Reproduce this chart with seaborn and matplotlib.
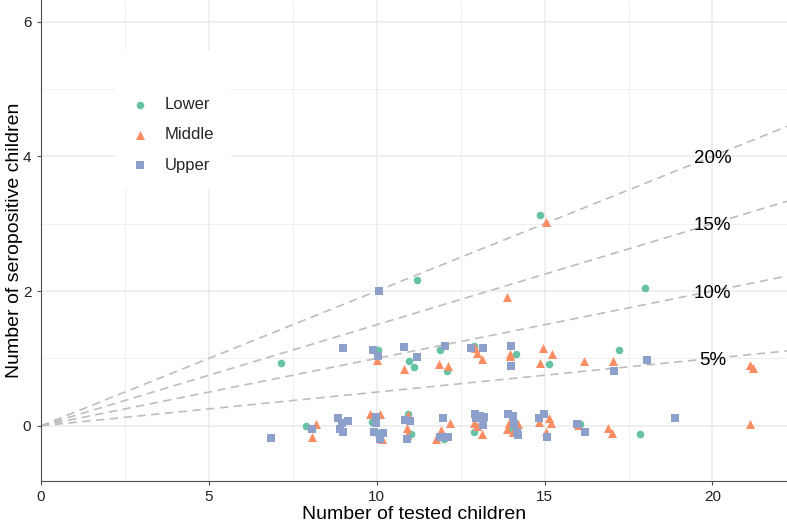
import matplotlib
matplotlib.use("Agg")
import matplotlib.pyplot as plt
import seaborn as sns
import pandas as pd
import numpy as np

# ---- data ----
groups = ["Lower", "Middle", "Upper"]

lower_x = [7.15, 7.88, 9.87, 9.85, 10.0, 10.05, 10.94, 11.02, 10.96, 11.12, 11.19, 11.89, 12.08, 12.0,
           12.90, 12.9, 13.97, 13.95, 14.15, 14.86, 15.13, 16.04, 17.22, 17.84, 17.99]
lower_y = [0.93, 0.0, 0.14, 0.06, -0.11, 1.12, 0.17, -0.12, 0.96, 0.87, 2.16, 1.12, 0.81, -0.2,
           1.18, -0.1, -0.01, -0.07, 1.06, 3.13, 0.92, 0.02, 1.12, -0.12, 2.04]

middle_x = [8.18, 8.08, 9.80, 10.10, 10.15, 10.02, 10.94, 10.89, 10.91, 10.81, 11.84, 12.11, 12.18, 11.91,
            11.77, 12.93, 12.98, 13.13, 12.9, 13.0, 13.15, 13.88, 13.97, 13.97, 13.95, 14.22, 13.87, 14.07,
            14.94, 15.21, 14.86, 15.03, 14.83, 15.14, 15.19, 15.04, 16.0, 16.17, 17.03, 16.9, 17.0,
            21.12, 21.2, 21.12]
middle_y = [0.02, -0.16, 0.17, 0.17, -0.19, 0.98, 0.16, -0.04, -0.14, 0.84, 0.92, 0.88, 0.04, -0.06,
            -0.2, 1.15, 1.08, 0.99, 0.04, -0.01, -0.12, 1.91, 1.06, 1.03, 0.04, 0.02, -0.05, -0.09,
            1.16, 1.06, 0.93, 3.03, 0.06, 0.11, 0.04, -0.1, 0.01, 0.96, 0.96, -0.04, -0.11,
            0.90, 0.85, 0.02]

upper_x = [6.84, 8.06, 8.86, 8.98, 9.14, 8.91, 9.01, 8.99, 9.98, 9.98, 9.92, 10.18, 10.10, 9.88, 10.05,
           10.07, 10.84, 10.99, 10.91, 10.82, 11.19, 11.97, 11.87, 12.13, 12.03, 12.8, 13.18, 12.93, 13.08,
           12.96, 13.2, 13.16, 14.01, 14.01, 13.92, 14.05, 14.1, 14.17, 14.2, 14.83, 14.98, 15.08, 15.96,
           16.2, 17.07, 18.04, 18.87]
upper_y = [-0.18, -0.05, 0.11, 0.04, 0.07, -0.05, -0.09, 1.16, 0.13, 0.04, -0.09, -0.11, -0.2, 1.12, 1.03,
           2.0, 0.08, 0.07, -0.19, 1.17, 1.02, 0.12, -0.17, -0.16, 1.18, 1.15, 1.15, 0.18, 0.14,
           0.11, 0.13, 0.01, 1.19, 0.89, 0.18, 0.14, 0.02, -0.09, -0.14, 0.12, 0.17, -0.17, 0.02,
           -0.10, 0.81, 0.97, 0.12]

rates = [0.05, 0.10, 0.15, 0.20]
rate_labels = ["5%", "10%", "15%", "20%"]
label_x = 20

x_ticks = [0, 5, 10, 15, 20]
y_ticks = [0, 2, 4, 6]

df = pd.DataFrame({
    "tested": lower_x + middle_x + upper_x,
    "positive": lower_y + middle_y + upper_y,
    "group": ["Lower"] * len(lower_x) + ["Middle"] * len(middle_x) + ["Upper"] * len(upper_x),
})

# ---- style ----
sns.set_theme(style="white")
plt.rcParams["font.family"] = ["Liberation Sans", "DejaVu Sans"]

fig = plt.figure(figsize=(7.87, 5.24), dpi=100)
ax = fig.add_axes([41 / 787, 43 / 524, 746 / 787, 481 / 524])

xmax = 22.22
ax.set_xlim(0, xmax)
ax.set_ylim(-0.82, 6.32)

# grid
ax.set_xticks(x_ticks)
ax.set_yticks(y_ticks)
ax.set_xticks([2.5, 7.5, 12.5, 17.5], minor=True)
ax.set_yticks([1, 3, 5], minor=True)
ax.grid(which="major", color="#ebebeb", linewidth=1.1, zorder=0)
ax.grid(which="minor", color="#ebebeb", linewidth=0.55, zorder=0)
ax.set_axisbelow(True)

# reference lines
for r, lab in zip(rates, rate_labels):
    ax.axline((0, 0), slope=r, color="#bdbdbd", linewidth=1.2, linestyle=(0, (5, 3.3)), zorder=1)
    ax.text(label_x, r * label_x - 0.03, lab, ha="center", va="center", fontsize=13.5,
            color="black", zorder=5)

palette = {"Lower": "#66c2a5", "Middle": "#fc8d62", "Upper": "#8da0cb"}
markers = {"Lower": "o", "Middle": "^", "Upper": "s"}
sizes_ = {"Lower": 30, "Middle": 42, "Upper": 30}

for g in groups:
    sub = df[df["group"] == g]
    sns.scatterplot(data=sub, x="tested", y="positive", color=palette[g], marker=markers[g],
                    s=sizes_[g], linewidth=0, ax=ax, zorder=3, label=g)

for side in ["top", "right"]:
    ax.spines[side].set_visible(False)
for side in ["left", "bottom"]:
    ax.spines[side].set_color("#4d4d4d")
    ax.spines[side].set_linewidth(0.8)

ax.tick_params(axis="both", which="major", length=3, width=0.8, color="#4d4d4d",
               labelsize=11, labelcolor="#222222", pad=4, left=True, bottom=True)
ax.tick_params(axis="x", which="major", pad=3.5)
ax.tick_params(axis="both", which="minor", length=0)

ax.set_xlabel("Number of tested children", fontsize=14, color="black")
ax.set_ylabel("Number of seropositive children", fontsize=14, color="black")
ax.yaxis.set_label_coords((23 - 41) / 746, 0.5)
ax.xaxis.set_label_coords(0.5, (481 - 506) / 481)

leg = ax.legend(title=" ", loc="upper left", bbox_to_anchor=(115 / 787, 1 - 50 / 524),
                bbox_transform=fig.transFigure, frameon=True, fontsize=12, title_fontsize=12,
                borderpad=1.0, borderaxespad=0, handlelength=1.0, handletextpad=1.0,
                labelspacing=0.92, markerscale=1.0, fancybox=False)
leg.get_frame().set_facecolor("white")
leg.get_frame().set_edgecolor("none")
leg.get_frame().set_alpha(1)
leg.set_zorder(6)

fig.savefig("out.png", dpi=100)
